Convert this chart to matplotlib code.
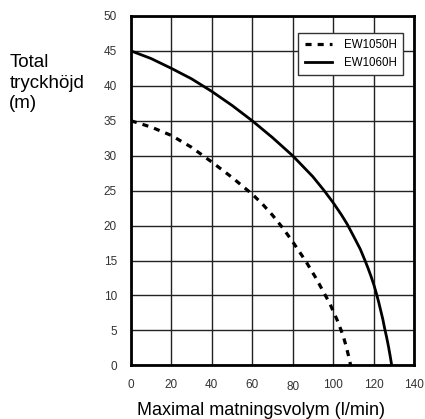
import matplotlib
matplotlib.use("Agg")
import matplotlib.pyplot as plt
from matplotlib.transforms import ScaledTranslation

# EW1060H (solid)
flow_1060 = [0, 10, 20, 30, 40, 50, 60, 70, 80, 90, 95.6, 100, 104, 107, 111, 113.5, 115.8, 117.3, 118.7, 120.2, 121.5, 122.6, 123.6, 124.6, 125.5, 126.5, 127.4, 128.2, 129]
head_1060 = [45, 43.9, 42.5, 41, 39.2, 37.2, 35, 32.6, 30, 27, 25, 23.3, 21.6, 20.2, 18.0, 16.6, 15.0, 13.9, 12.8, 11.5, 10.2, 9.0, 7.8, 6.6, 5.3, 4.0, 2.7, 1.4, 0]

# EW1050H (dashed)
flow_1050 = [0, 10, 20, 30, 40, 50, 60, 65, 70, 75, 80, 86.5, 91.5, 96.4, 98.3, 100, 102, 104, 105.3, 106.5, 107.6, 108.7]
head_1050 = [35, 34.1, 32.9, 31.2, 29.1, 26.9, 24.5, 23.1, 21.5, 19.7, 17.7, 14.9, 12.5, 9.9, 8.9, 7.8, 6.5, 5.0, 3.9, 2.7, 1.4, 0]

xticks = [0, 20, 40, 60, 80, 100, 120, 140]
yticks = [0, 5, 10, 15, 20, 25, 30, 35, 40, 45, 50]

plt.rcParams['font.family'] = ['Liberation Sans', 'DejaVu Sans']

fig = plt.figure(figsize=(4.25, 4.19), dpi=100)
ax = fig.add_axes([0.308, 0.128, 0.666, 0.834])

ax.plot(flow_1050, head_1050, color='black', lw=2.3, ls=(0, (1.9, 1.9)), label='EW1050H')
ax.plot(flow_1060, head_1060, color='black', lw=2, label='EW1060H')

ax.set_xlim(0, 140)
ax.set_ylim(0, 50)
ax.set_xticks(xticks)
ax.set_yticks(yticks)
ax.grid(True, color='#222222', lw=1)
ax.tick_params(length=0, labelsize=8.5, colors='#333333')
ax.tick_params(axis='y', pad=10)
ax.tick_params(axis='x', pad=10)
for s in ax.spines.values():
    s.set_linewidth(2)

# the "80" label sits a bit lower in the original
lab80 = ax.get_xticklabels()[4]
lab80.set_transform(lab80.get_transform() + ScaledTranslation(0, -1.2 / 72, fig.dpi_scale_trans))

leg = ax.legend(loc='upper right', bbox_to_anchor=(0.961, 0.951), borderaxespad=0,
                fontsize=8.3, fancybox=False, framealpha=1, edgecolor='#333333',
                handlelength=2.4, borderpad=0.55, labelspacing=0.45, handletextpad=1.0)
leg.get_frame().set_linewidth(1)

ax.set_xlabel('Maximal matningsvolym (l/min)', fontsize=13)
ax.xaxis.set_label_coords(0.46, -0.105)
fig.text(0.022, 0.872, 'Total\ntryckhöjd\n(m)', fontsize=13.5, va='top', ha='left',
         linespacing=1.3)

fig.savefig('out.png', dpi=100)
